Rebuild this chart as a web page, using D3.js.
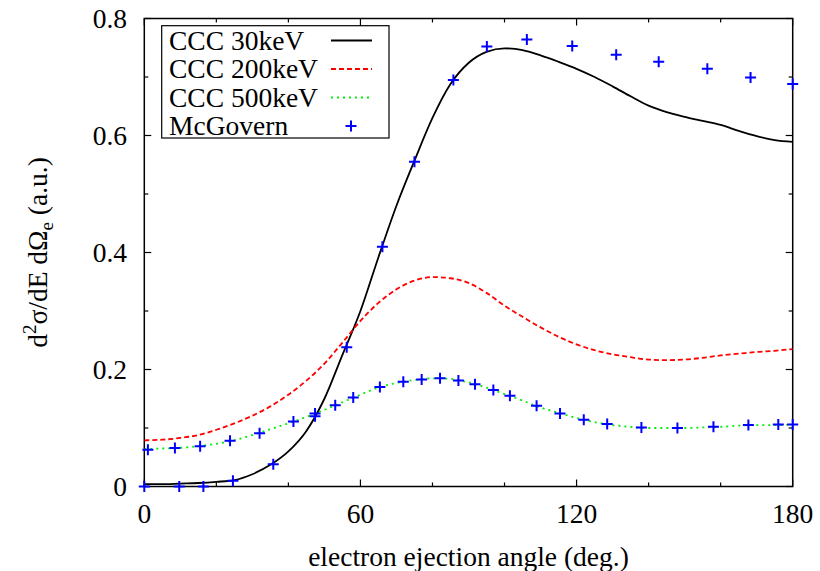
<!DOCTYPE html>
<html>
<head>
<meta charset="utf-8">
<script src="https://cdn.jsdelivr.net/npm/d3@7"></script>
<style>
  html, body { margin: 0; padding: 0; background: #fff; }
  svg { display: block; }
</style>
</head>
<body>
<svg id="chart" width="820" height="571" font-family="'Liberation Serif', 'DejaVu Serif', 'Times New Roman', Times, serif"></svg>
<script>
// ---- data ----
const angles = [0,5,10,15,20,25,30,35,40,45,50,55,60,65,70,75,80,85,90,95,100,105,110,115,120,125,130,135,140,145,150,155,160,165,170,175,180];
const ccc30 = [0.004,0.004,0.005,0.006,0.008,0.011,0.021,0.037,0.060,0.095,0.150,0.225,0.300,0.392,0.480,0.557,0.630,0.688,0.724,0.743,0.749,0.746,0.737,0.726,0.714,0.700,0.684,0.667,0.651,0.640,0.632,0.625,0.618,0.608,0.599,0.592,0.589];
const ccc200 = [0.079,0.080,0.083,0.088,0.097,0.108,0.121,0.137,0.157,0.181,0.210,0.246,0.283,0.314,0.337,0.352,0.358,0.356,0.348,0.331,0.309,0.290,0.272,0.256,0.243,0.233,0.226,0.221,0.217,0.216,0.217,0.220,0.224,0.227,0.230,0.232,0.235];
const ccc500 = [0.064,0.065,0.066,0.069,0.073,0.079,0.088,0.098,0.108,0.119,0.131,0.144,0.157,0.169,0.177,0.182,0.185,0.184,0.178,0.169,0.158,0.147,0.135,0.126,0.117,0.110,0.105,0.102,0.100,0.100,0.100,0.101,0.102,0.104,0.105,0.105,0.106];

const mcgA_angles = [0,9.7,16.4,24.6,35.8,47.4,56.2,66.1,75,85.8,95.1,106.2,118.8,131,142.8,156.3,168.3,180];
const mcgA_values = [0.0,0.0,0.0,0.010,0.038,0.120,0.238,0.410,0.555,0.695,0.752,0.764,0.753,0.738,0.726,0.714,0.699,0.688];
const mcgB_angles = [1,8.5,15.5,23.8,32,41.4,47.4,53,58,65.4,71.9,77,82.1,87.2,91.8,96.9,101.5,108.9,115.4,122,128.5,138,148,158,167.7,176,180];
const mcgB_values = [0.063,0.066,0.069,0.078,0.091,0.111,0.125,0.139,0.152,0.170,0.179,0.183,0.185,0.181,0.175,0.165,0.155,0.138,0.125,0.114,0.107,0.101,0.100,0.102,0.105,0.106,0.106];

const xTicks = [0,60,120,180];
const xMinorTicks = [20,40,80,100,140,160];
const yTicks = [0,0.2,0.4,0.6,0.8];
const yMinorTicks = [0.1,0.3,0.5,0.7];
const xTickLabels = ["0","60","120","180"];
const yTickLabels = ["0","0.2","0.4","0.6","0.8"];

const seriesNames = ["CCC 30keV","CCC 200keV","CCC 500keV","McGovern"];
const xTitle = "electron ejection angle (deg.)";

// ---- layout ----
const svg = d3.select("#chart");
const L = 144.3, R = 792.7, T = 18.5, B = 486.5;
const x = d3.scaleLinear().domain([0,180]).range([L,R]);
const y = d3.scaleLinear().domain([0,0.8]).range([B,T]);
const FS = 27.5;

// frame
svg.append("rect").attr("x",L).attr("y",T).attr("width",R-L).attr("height",B-T)
  .attr("fill","none").attr("stroke","#000").attr("stroke-width",1.5);

// ticks (inward, mirrored)
const tk = svg.append("g").attr("stroke","#000").attr("stroke-width",1.2);
function xt(v,len){
  tk.append("line").attr("x1",x(v)).attr("x2",x(v)).attr("y1",B).attr("y2",B-len);
  tk.append("line").attr("x1",x(v)).attr("x2",x(v)).attr("y1",T).attr("y2",T+len);
}
function yt(v,len){
  tk.append("line").attr("y1",y(v)).attr("y2",y(v)).attr("x1",L).attr("x2",L+len);
  tk.append("line").attr("y1",y(v)).attr("y2",y(v)).attr("x1",R).attr("x2",R-len);
}
xTicks.forEach(v=>xt(v,7)); xMinorTicks.forEach(v=>xt(v,4));
yTicks.forEach(v=>yt(v,7)); yMinorTicks.forEach(v=>yt(v,4));

// tick labels
xTicks.forEach((v,i)=>{
  svg.append("text").attr("x",x(v)).attr("y",523).attr("text-anchor","middle")
    .attr("font-size",FS).text(xTickLabels[i]);
});
yTicks.forEach((v,i)=>{
  svg.append("text").attr("x",127).attr("y",y(v)).attr("dy","0.34em").attr("text-anchor","end")
    .attr("font-size",FS).text(yTickLabels[i]);
});

// axis titles
svg.append("text").attr("x",(L+R)/2).attr("y",566).attr("text-anchor","middle")
  .attr("font-size",FS).text(xTitle);
const yl = svg.append("text").attr("transform",`translate(47,${(T+B)/2}) rotate(-90)`)
  .attr("text-anchor","middle").attr("font-size",FS);
yl.append("tspan").text("d");
yl.append("tspan").attr("font-size",19).attr("dy",-11).text("2");
yl.append("tspan").attr("dy",11).text("σ/dE dΩ");
yl.append("tspan").attr("font-size",19).attr("dy",6).text("e");
yl.append("tspan").attr("dy",-6).text(" (a.u.)");

// clip
svg.append("clipPath").attr("id","clip").append("rect")
  .attr("x",L).attr("y",T).attr("width",R-L).attr("height",B-T);

const line = d3.line().curve(d3.curveMonotoneX);
const plot = svg.append("g").attr("clip-path","url(#clip)");

const styles = [
  {vals:ccc30, color:"#000000", dash:null},
  {vals:ccc200, color:"#ff0000", dash:"5,3"},
  {vals:ccc500, color:"#00ee00", dash:"2,4"}
];
styles.forEach(s=>{
  plot.append("path").attr("d", line(angles.map((a,i)=>[x(a), y(s.vals[i])])))
    .attr("fill","none").attr("stroke",s.color).attr("stroke-width",1.8)
    .attr("stroke-dasharray",s.dash);
});

// McGovern points
const plus = "M-5.5,0H5.5M0,-5.5V5.5";
const pts = svg.append("g").attr("stroke","#0000ff").attr("stroke-width",2).attr("fill","none");
mcgB_angles.forEach((a,i)=>pts.append("path").attr("d",plus).attr("transform",`translate(${x(a)},${y(mcgB_values[i])})`));
mcgA_angles.forEach((a,i)=>pts.append("path").attr("d",plus).attr("transform",`translate(${x(a)},${y(mcgA_values[i])})`));

// legend
const lg = svg.append("g");
lg.append("rect").attr("x",161.7).attr("y",25.7).attr("width",227.3).attr("height",112.3)
  .attr("fill","#fff").attr("stroke","#000").attr("stroke-width",1.2);
const rowsY = [49.5,78,106.5,135];
seriesNames.forEach((n,i)=>{
  lg.append("text").attr("x",169).attr("y",rowsY[i]).attr("font-size",FS).text(n);
  const cy = rowsY[i]-9;
  if(i<3){
    lg.append("line").attr("x1",331).attr("x2",372).attr("y1",cy).attr("y2",cy)
      .attr("stroke",styles[i].color).attr("stroke-width",1.8).attr("stroke-dasharray",styles[i].dash);
  } else {
    lg.append("path").attr("d",plus).attr("transform",`translate(351,${cy})`)
      .attr("stroke","#0000ff").attr("stroke-width",2).attr("fill","none");
  }
});
</script>
</body>
</html>
